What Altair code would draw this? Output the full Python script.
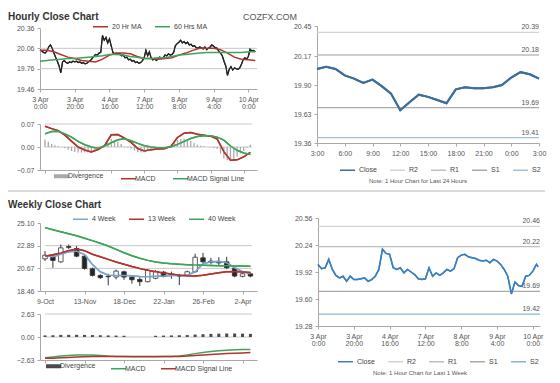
import json
import altair as alt
import pandas as pd

W, H = 544, 367
FONT = "Liberation Sans"
AXC = "#a8a8a8"
GRID = "#c8c8c8"
LBL = "#555555"
RED = "#b5332e"
GREEN = "#3ea45a"

# panel boxes in canvas pixels: (left, right, top, bottom)
B1 = (32, 249, 20, 81)
B2 = (32, 249, 116, 162)
B3 = (309, 531, 18, 135)
B4 = (32, 249, 215, 283)
B5 = (32, 249, 306, 352)
B6 = (310, 532, 210, 318)

# ---------------- Hourly close chart ----------------
hour_ticks = [0, 20, 40, 60, 80, 100, 120]
hour_tick_labels = ["3 Apr|0:00", "3 Apr|20:00", "4 Apr|16:00", "7 Apr|12:00",
                    "8 Apr|8:00", "9 Apr|4:00", "10 Apr|0:00"]
hourly_yticks = [19.46, 19.76, 20.06, 20.36]
hourly_close = [20.04, 20.02, 20.00, 19.99, 20.02, 20.08, 20.11, 20.06, 19.99, 19.93,
                19.87, 19.80, 19.70, 19.86, 19.88, 19.85, 19.84, 19.86, 19.85, 19.87,
                19.86, 19.87, 19.85, 19.86, 19.84, 19.85, 19.83, 19.84, 19.86, 19.88,
                19.91, 19.94, 19.97, 19.96, 19.99, 20.00, 20.25, 20.18, 20.22, 20.14,
                20.20, 20.10, 20.00, 19.98, 19.99, 19.97, 19.98, 19.95, 19.96, 19.92,
                19.93, 19.89, 19.90, 19.87, 19.88, 19.85, 19.86, 19.84, 19.85, 19.88,
                19.92, 20.03, 19.95, 20.01, 19.92, 19.89, 19.91, 19.88, 19.90, 19.93,
                19.91, 19.92, 19.96, 19.95, 19.98, 19.96, 19.97, 20.00, 20.10, 20.13,
                20.15, 20.18, 20.14, 20.16, 20.13, 20.15, 20.11, 20.12, 20.09, 20.10,
                20.07, 20.06, 20.08, 20.07, 20.05, 20.08, 20.04, 20.06, 20.08, 20.11,
                20.09, 20.07, 20.06, 20.02, 19.99, 19.95, 19.87, 19.80, 19.66, 19.75,
                19.79, 19.74, 19.77, 19.76, 19.75, 19.77, 19.82, 19.89, 19.92, 19.90,
                19.94, 20.05, 20.02, 20.03, 20.01]
ma_hours = list(range(0, 125, 4))
ma20 = [20.03, 20.03, 20.01, 19.97, 19.93, 19.91, 19.88, 19.87,
        19.86, 19.90, 19.96, 19.99, 19.99, 19.98, 19.94, 19.91,
        19.91, 19.90, 19.91, 19.92, 19.96, 19.99, 20.03, 20.06,
        20.06, 20.06, 20.04, 19.99, 19.93, 19.90, 19.89, 19.88]
ma60 = [19.87, 19.88, 19.89, 19.90, 19.91, 19.91, 19.92, 19.93,
        19.94, 19.95, 19.97, 19.97, 19.96, 19.94, 19.93, 19.91,
        19.91, 19.92, 19.92, 19.94, 19.96, 19.97, 19.98, 19.99,
        20.00, 20.00, 20.00, 20.00, 20.00, 20.00, 20.01, 20.01]
macd_yticks = [-0.07, 0.0, 0.07]
macd_h = [0.063, 0.056, 0.050, 0.036, 0.018, 0.000, -0.009, -0.015,
          -0.008, 0.004, 0.037, 0.038, 0.027, 0.014, -0.005, -0.012,
          -0.008, -0.006, -0.005, 0.002, 0.029, 0.042, 0.044, 0.039,
          0.036, 0.033, 0.024, -0.014, -0.040, -0.039, -0.030, -0.016]
signal_h = [0.040, 0.047, 0.048, 0.040, 0.030, 0.017, 0.007, 0.000,
            -0.004, 0.003, 0.013, 0.022, 0.025, 0.019, 0.011, 0.004,
            0.000, -0.002, -0.002, 0.000, 0.008, 0.017, 0.026, 0.032,
            0.034, 0.034, 0.030, 0.021, 0.003, -0.010, -0.018, -0.023]
div_hours = list(range(0, 125, 2))
div_h = [0.023, 0.016, 0.009, 0.005, 0.002, -0.001, -0.004, -0.008, -0.012, -0.015,
         -0.017, -0.017, -0.016, -0.016, -0.015, -0.010, -0.004, -0.002, 0.001, 0.012,
         0.024, 0.020, 0.016, 0.009, 0.002, -0.002, -0.005, -0.011, -0.016, -0.017,
         -0.016, -0.012, -0.008, -0.006, -0.004, -0.004, -0.003, 0.000, 0.002, 0.012,
         0.021, 0.024, 0.025, 0.022, 0.018, 0.012, 0.007, 0.004, 0.002, 0.000,
         -0.001, -0.003, -0.006, -0.020, -0.035, -0.040, -0.043, -0.036, -0.029, -0.020,
         -0.012, -0.003, 0.007]

# ---------------- Last 24 hours ----------------
day_ticks = [0, 3, 6, 9, 12, 15, 18, 21, 24]
day_tick_labels = ["3:00", "6:00", "9:00", "12:00", "15:00", "18:00", "21:00", "0:00", "3:00"]
day_yticks = [19.36, 19.63, 19.90, 20.17, 20.45]
day_close = [20.05, 20.07, 20.05, 19.99, 19.96, 19.92, 19.95, 19.89, 19.82, 19.665,
             19.74, 19.81, 19.79, 19.76, 19.73, 19.86, 19.88, 19.87, 19.87, 19.88,
             19.90, 19.97, 20.02, 20.00, 19.96]
pivot_names = ["R2", "R1", "S1", "S2"]
day_pivots = [20.39, 20.18, 19.69, 19.41]

# ---------------- Weekly close chart ----------------
week_ticks = [0, 5, 10, 15, 20, 25]
week_tick_labels = ["9-Oct", "13-Nov", "18-Dec", "22-Jan", "26-Feb", "2-Apr"]
week_yticks = [18.46, 20.67, 22.89, 25.10]
wk_open = [21.60, 21.86, 21.31, 22.80, 22.61, 21.86, 20.63, 19.98, 19.90, 19.82,
           20.34, 19.82, 19.59, 19.37, 19.70, 20.31, 20.05, 19.95, 20.01, 20.34,
           21.70, 21.38, 21.35, 21.31, 20.66, 19.89, 20.14]
wk_high = [22.35, 22.00, 22.99, 23.00, 22.85, 21.95, 20.75, 20.10, 20.14, 20.55,
           20.45, 19.90, 19.80, 20.60, 20.50, 20.40, 20.35, 20.10, 20.45, 22.10,
           22.18, 21.70, 21.75, 21.80, 20.80, 20.25, 20.25]
wk_low = [21.40, 20.73, 21.21, 22.55, 21.76, 20.55, 19.88, 19.65, 19.01, 19.60,
          19.55, 19.17, 18.95, 19.30, 19.60, 19.80, 19.66, 19.04, 19.90, 20.25,
          21.21, 21.05, 20.90, 20.60, 19.80, 19.80, 19.80]
wk_close = [21.95, 21.44, 22.67, 22.72, 21.86, 20.66, 19.98, 19.76, 19.85, 20.40,
            19.82, 19.56, 19.37, 20.47, 20.34, 19.89, 20.00, 19.92, 20.34, 21.76,
            21.31, 21.25, 21.20, 20.73, 19.92, 20.14, 19.92]
ma4w = [21.90, 21.80, 22.05, 22.30, 22.35, 22.02, 21.05, 20.34, 20.01, 19.98,
        19.98, 19.95, 19.88, 19.85, 19.90, 19.93, 19.98, 19.98, 20.00, 20.34,
        21.12, 21.31, 21.33, 21.21, 20.73, 20.34, 20.14]
ma13w = [21.85, 22.00, 22.18, 22.40, 22.55, 22.40, 22.05, 21.80, 21.55, 21.30,
         21.08, 20.85, 20.65, 20.48, 20.35, 20.22, 20.12, 20.00, 19.95, 19.93,
         20.00, 20.12, 20.25, 20.33, 20.36, 20.32, 20.27]
ma40w = [24.65, 24.45, 24.25, 24.05, 23.85, 23.62, 23.38, 23.12, 22.85, 22.52,
         22.20, 21.90, 21.65, 21.45, 21.30, 21.20, 21.12, 21.07, 21.03, 21.00,
         20.97, 20.95, 20.93, 20.92, 20.91, 20.90, 20.88]
wmacd_yticks = [-2.63, 0.0, 2.63]
macd_w = [-2.36, -2.28, -2.18, -2.12, -2.07, -2.06, -2.07, -2.12, -2.18, -2.22,
          -2.24, -2.25, -2.25, -2.25, -2.25, -2.24, -2.23, -2.18, -2.07, -1.90,
          -1.78, -1.66, -1.57, -1.51, -1.47, -1.44, -1.42]
signal_w = [-2.44, -2.42, -2.38, -2.34, -2.30, -2.26, -2.24, -2.23, -2.23, -2.23,
            -2.23, -2.23, -2.24, -2.24, -2.24, -2.24, -2.24, -2.22, -2.18, -2.12,
            -2.06, -2.00, -1.95, -1.90, -1.86, -1.82, -1.78]
div_w = [0.18, 0.20, 0.24, 0.25, 0.25, 0.24, 0.22, 0.20, 0.18, 0.16,
         0.14, 0.00, 0.00, 0.00, 0.14, 0.16, 0.18, 0.20, 0.22, 0.28,
         0.32, 0.36, 0.38, 0.40, 0.40, 0.38, 0.36]

# ---------------- Last 1 week (hourly) ----------------
wh_yticks = [19.28, 19.60, 19.92, 20.24, 20.56]
wh_hours = list(range(0, 123, 2)) + [123]
wh_close = [20.01, 19.96, 19.97, 20.07, 19.95, 19.88, 19.85, 19.87, 19.81, 19.87,
            19.83, 19.83, 19.84, 19.85, 19.81, 19.83, 19.87, 19.95, 20.19, 20.14,
            20.13, 19.97, 19.95, 19.97, 19.91, 19.95, 19.92, 19.89, 19.84, 19.83,
            19.84, 19.97, 19.87, 19.91, 19.88, 19.91, 19.95, 19.93, 19.96, 20.09,
            20.12, 20.13, 20.10, 20.09, 20.08, 20.06, 20.05, 20.06, 20.03, 20.07,
            20.05, 20.01, 19.95, 19.87, 19.66, 19.80, 19.76, 19.75, 19.87, 19.88,
            19.93, 20.01, 19.98]
wh_pivots = [20.46, 20.22, 19.69, 19.42]


# ---------------- helpers ----------------
def sx(dom, b):
    return alt.Scale(domain=dom, range=[b[0], b[1]], nice=False, zero=False)


def sy(dom, b):
    return alt.Scale(domain=dom, range=[b[3], b[2]], nice=False, zero=False)


def yaxis(b, values):
    return alt.Axis(orient="left", offset=-b[0], values=values, format=".2f", title=None,
                    grid=False, labelFlush=False, labelOverlap=False, tickSize=3,
                    labelPadding=3)


def xaxis(b, values, labels=None, multiline=False):
    kw = dict(orient="bottom", offset=b[3] - H, values=values, title=None, grid=False,
              labelFlush=False, labelOverlap=False, tickSize=3, labelPadding=3,
              labelLineHeight=7.5)
    if labels is None:
        kw["labels"] = False
    else:
        e = json.dumps(labels) + "[indexof(" + json.dumps(values) + ", datum.value)]"
        kw["labelExpr"] = "split(" + e + ", '|')" if multiline else e
    return alt.Axis(**kw)


def legend(x, y, wide=None, gap=10):
    kw = dict(orient="none", legendX=x, legendY=y, direction="horizontal", title=None,
              symbolType="stroke", symbolSize=225, symbolStrokeWidth=1.5, labelOffset=3,
              columnPadding=gap, labelFontSize=7, labelFont=FONT, labelColor="#444444",
              padding=0)
    if wide:
        kw["symbolStrokeWidth"] = alt.ExprRef(expr="datum.value === '%s' ? 4 : 1.5" % wide)
    return alt.Legend(**kw)


def long_df(xs, series):
    rows = []
    for name, vals in series:
        rows += [{"h": h, "v": v, "series": name} for h, v in zip(xs, vals)]
    return pd.DataFrame(rows)


def grid(values, y, x0, x1):
    return alt.Chart(pd.DataFrame({"v": values})).mark_rule(color=GRID, strokeWidth=1).encode(
        x=alt.datum(x0), x2=alt.datum(x1), y=y)


# ---------------- P1 hourly price ----------------
X1 = alt.X("h:Q", scale=sx([0, 125], B1), axis=xaxis(B1, hour_ticks, hour_tick_labels, True))
Y1 = alt.Y("v:Q", scale=sy([19.46, 20.36], B1), axis=yaxis(B1, hourly_yticks))
C1 = alt.Color("series:N", scale=alt.Scale(domain=["20 Hr MA", "60 Hrs MA"], range=[RED, GREEN]),
               legend=legend(84, 10))
price_df = pd.DataFrame({"h": list(range(len(hourly_close))), "v": hourly_close})
p1 = alt.layer(
    alt.Chart(price_df).mark_line(color="#222222", strokeWidth=1.2).encode(x=X1, y=Y1),
    grid(hourly_yticks[1:3], Y1, 0, 125),
    alt.Chart(price_df).mark_line(color="#222222", strokeWidth=1.2).encode(x=X1, y=Y1),
    alt.Chart(long_df(ma_hours, [("20 Hr MA", ma20), ("60 Hrs MA", ma60)]))
    .mark_line(strokeWidth=1.5).encode(x=X1, y=Y1, color=C1),
)

# ---------------- P2 hourly MACD ----------------
X2 = alt.X("h:Q", scale=sx([0, 125], B2), axis=xaxis(B2, hour_ticks))
Y2 = alt.Y("v:Q", scale=sy([-0.07, 0.07], B2), axis=yaxis(B2, macd_yticks))
C2 = alt.Color("series:N", scale=alt.Scale(domain=["Divergence", "MACD", "MACD Signal Line"],
                                           range=["#a8a8a8", RED, GREEN]),
               legend=legend(50, 164.5, wide="Divergence", gap=14))
macd_df = long_df(ma_hours, [("MACD", macd_h), ("MACD Signal Line", signal_h)])
p2 = alt.layer(
    alt.Chart(macd_df).mark_line(strokeWidth=1.5).encode(x=X2, y=Y2, color=C2),
    grid([0.0, 0.07], Y2, 0, 125),
    alt.Chart(pd.DataFrame({"h": div_hours, "v": div_h}))
    .mark_bar(size=1.3, color="#a8a8a8").encode(x=X2, y=Y2, y2=alt.datum(0)),
    alt.Chart(macd_df).mark_line(strokeWidth=1.5).encode(x=X2, y=Y2, color=C2),
)

# ---------------- P3 last 24 hours ----------------
PIV_COLORS_DAY = ["#d2d2d2", "#bdbdbd", "#a9a9a9", "#a3c1d4"]
X3 = alt.X("h:Q", scale=sx([0, 24], B3), axis=xaxis(B3, day_ticks, day_tick_labels))
Y3 = alt.Y("v:Q", scale=sy([19.36, 20.45], B3), axis=yaxis(B3, day_yticks))
C3 = alt.Color("series:N", scale=alt.Scale(domain=["Close"] + pivot_names,
                                           range=["#3e6d9c"] + PIV_COLORS_DAY),
               legend=legend(331, 153.5))
day_piv_df = pd.DataFrame({"series": pivot_names, "v": day_pivots})
day_df = pd.DataFrame({"h": list(range(len(day_close))), "v": day_close, "series": "Close"})
p3 = alt.layer(
    alt.Chart(day_df).mark_line(strokeWidth=2).encode(x=X3, y=Y3, color=C3),
    alt.Chart(day_piv_df).mark_rule(strokeWidth=1.3).encode(
        x=alt.datum(0), x2=alt.datum(24), y=Y3, color=C3),
    alt.Chart(day_piv_df).mark_text(align="right", baseline="bottom", dy=-2, fontSize=7,
                                    font=FONT, color=LBL).encode(
        x=alt.datum(24), y=Y3, text=alt.Text("v:Q", format=".2f")),
    alt.Chart(day_df).mark_line(strokeWidth=2).encode(x=X3, y=Y3, color=C3),
)

# ---------------- P4 weekly candles ----------------
weeks = list(range(len(wk_close)))
X4 = alt.X("h:Q", scale=sx([0, 26.2], B4), axis=xaxis(B4, week_ticks, week_tick_labels))
Y4 = alt.Y("v:Q", scale=sy([18.46, 25.10], B4), axis=yaxis(B4, week_yticks))
C4 = alt.Color("series:N", scale=alt.Scale(domain=["4 Week", "13 Week", "40 Week"],
                                           range=["#79a6cd", RED, GREEN]),
               legend=legend(64, 202.5))
candles = pd.DataFrame({"h": weeks, "open": wk_open, "high": wk_high, "low": wk_low, "close": wk_close})
wk_ma_df = long_df(weeks, [("4 Week", ma4w), ("13 Week", ma13w), ("40 Week", ma40w)])
p4 = alt.layer(
    alt.Chart(wk_ma_df).mark_line(strokeWidth=1.5).encode(x=X4, y=Y4, color=C4),
    grid(week_yticks[1:3], Y4, 0, 26.2),
    alt.Chart(candles).mark_rule(color="#333333", strokeWidth=1).encode(
        x=X4, y=alt.Y("low:Q"), y2=alt.Y2("high:Q")),
    alt.Chart(candles).mark_bar(size=4.5, stroke="#333333", strokeWidth=0.8).encode(
        x=X4, y=alt.Y("open:Q"), y2=alt.Y2("close:Q"),
        fill=alt.condition("datum.close >= datum.open", alt.value("#ffffff"), alt.value("#262626"))),
    alt.Chart(wk_ma_df).mark_line(strokeWidth=1.5).encode(x=X4, y=Y4, color=C4),
)

# ---------------- P5 weekly MACD ----------------
X5 = alt.X("h:Q", scale=sx([0, 26.2], B5), axis=xaxis(B5, week_ticks))
Y5 = alt.Y("v:Q", scale=sy([-2.63, 2.63], B5), axis=yaxis(B5, wmacd_yticks))
C5 = alt.Color("series:N", scale=alt.Scale(domain=["Divergence", "MACD", "MACD Signal Line"],
                                           range=["#4a4a4a", GREEN, RED]),
               legend=legend(42, 354.5, wide="Divergence", gap=12))
p5 = alt.layer(
    alt.Chart(long_df(weeks, [("MACD", macd_w), ("MACD Signal Line", signal_w)]))
    .mark_line(strokeWidth=1.5).encode(x=X5, y=Y5, color=C5),
    grid([0.0, 2.63], Y5, 0, 26.2),
    alt.Chart(pd.DataFrame({"h": weeks, "v": div_w}))
    .mark_bar(size=3, color="#4a4a4a").encode(x=X5, y=Y5, y2=alt.datum(0)),
)

# ---------------- P6 last week hourly ----------------
PIV_COLORS_WEEK = ["#d2d2d2", "#bdbdbd", "#a9a9a9", "#86b9c7"]
X6 = alt.X("h:Q", scale=sx([0, 124], B6), axis=xaxis(B6, hour_ticks, hour_tick_labels, True))
Y6 = alt.Y("v:Q", scale=sy([19.28, 20.56], B6), axis=yaxis(B6, wh_yticks))
C6 = alt.Color("series:N", scale=alt.Scale(domain=["Close"] + pivot_names,
                                           range=["#3a7fc1"] + PIV_COLORS_WEEK),
               legend=legend(329, 345))
wh_piv_df = pd.DataFrame({"series": pivot_names, "v": wh_pivots})
wh_df = pd.DataFrame({"h": wh_hours, "v": wh_close, "series": "Close"})
p6 = alt.layer(
    alt.Chart(wh_df).mark_line(strokeWidth=1.5).encode(x=X6, y=Y6, color=C6),
    alt.Chart(wh_piv_df).mark_rule(strokeWidth=1.3).encode(
        x=alt.datum(0), x2=alt.datum(124), y=Y6, color=C6),
    alt.Chart(wh_piv_df).mark_text(align="right", baseline="bottom", dy=-2, fontSize=7,
                                   font=FONT, color=LBL).encode(
        x=alt.datum(124), y=Y6, text=alt.Text("v:Q", format=".2f")),
    alt.Chart(wh_df).mark_line(strokeWidth=1.5).encode(x=X6, y=Y6, color=C6),
)


# ---------------- titles, notes, separators ----------------
def label(text, x, y, **kw):
    return alt.Chart(pd.DataFrame({"t": [text]})).mark_text(font=FONT, **kw).encode(
        x=alt.value(x), y=alt.value(y), text="t:N")


decos = [
    label("Hourly Close Chart", 0, 9, fontSize=10, fontWeight="bold", align="left", color="#333333"),
    label("COZFX.COM", 262, 9, fontSize=9, align="center", color="#555555"),
    label("Weekly Close Chart", 0, 197, fontSize=10, fontWeight="bold", align="left", color="#333333"),
    label("Note: 1 Hour Chart for Last 24 Hours", 410, 173, fontSize=6, align="center", color="#555555"),
    label("Note: 1 Hour Chart for Last 1 Week", 412, 365, fontSize=6, align="center", color="#555555"),
    alt.Chart(pd.DataFrame({"a": [0]})).mark_rule(color="#cccccc", strokeWidth=1.5).encode(
        x=alt.value(-3), x2=alt.value(537), y=alt.value(183)),
]

chart = (
    alt.layer(p1, p2, p3, p4, p5, p6, *decos)
    .resolve_scale(x="independent", y="independent", color="independent")
    .properties(width=W, height=H, autosize=alt.AutoSizeParams(type="none"), padding=0,
                background="white")
    .configure_view(strokeWidth=0)
    .configure_axis(domainColor=AXC, tickColor=AXC, labelColor=LBL, labelFont=FONT,
                    labelFontSize=7)
)

chart.save("out.html", embed_options={"renderer": "svg", "actions": False})
